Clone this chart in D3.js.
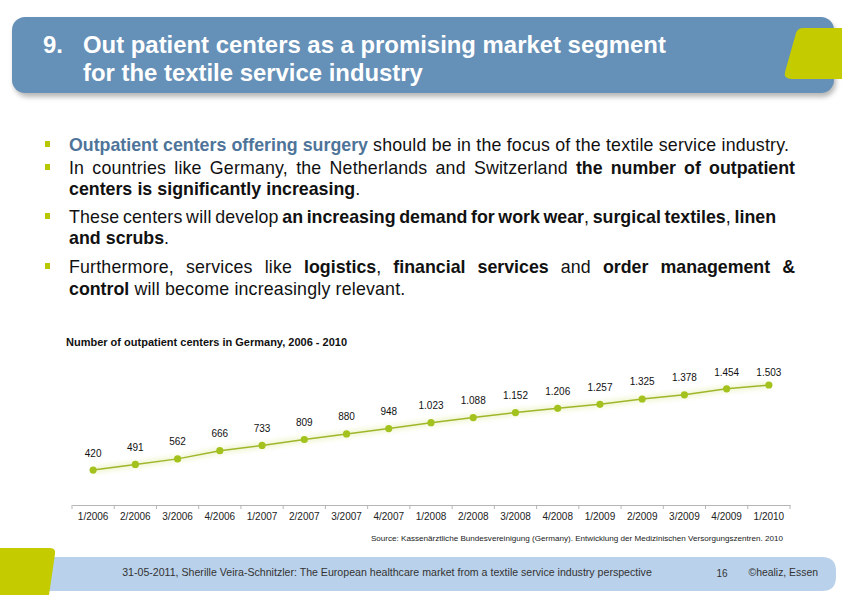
<!DOCTYPE html>
<html><head><meta charset="utf-8">
<script src="https://cdn.jsdelivr.net/npm/d3@7"></script>
<style>html,body{margin:0;padding:0;background:#fff;}svg{display:block;font-family:"Liberation Sans",Arial,sans-serif;}</style>
</head><body>
<script>
const categories = ["1/2006","2/2006","3/2006","4/2006","1/2007","2/2007","3/2007","4/2007","1/2008","2/2008","3/2008","4/2008","1/2009","2/2009","3/2009","4/2009","1/2010"];
const centerCounts = [420,491,562,666,733,809,880,948,1023,1088,1152,1206,1257,1325,1378,1454,1503];
const titleLines = ["Out patient centers as a promising market segment","for the textile service industry"];
const chartTitle = "Number of outpatient centers in Germany, 2006 - 2010";
const sourceText = "Source: Kassenärztliche Bundesvereinigung (Germany). Entwicklung der Medizinischen Versorgungszentren. 2010";
const footerText = "31-05-2011, Sherille Veira-Schnitzler: The European healthcare market from a textile service industry perspective";
// bullets: each line is a list of [text, style]; n=normal, b=bold, h=bold highlight
const bullets = [
  {lines:[{justify:false, segs:[["Outpatient centers offering surgery","h"],[" should be in the focus of the textile service industry.","n"]]}]},
  {lines:[{justify:true, segs:[["In countries like Germany, the Netherlands and Switzerland ","n"],["the number of outpatient","b"]]},
          {justify:false, segs:[["centers is significantly increasing","b"],[".","n"]]}]},
  {lines:[{justify:true, end:776, segs:[["These centers will develop ","n"],["an increasing demand for work wear","b"],[", ","n"],["surgical textiles","b"],[", ","n"],["linen","b"]]},
          {justify:false, segs:[["and scrubs","b"],[".","n"]]}]},
  {lines:[{justify:true, segs:[["Furthermore, services like ","n"],["logistics","b"],[", ","n"],["financial services","b"],[" and ","n"],["order management &","b"]]},
          {justify:false, segs:[["control","b"],[" will become increasingly relevant.","n"]]}]}
];

const W=842,H=595;
const svg=d3.select("body").append("svg").attr("width",W).attr("height",H);
const defs=svg.append("defs");
const f=defs.append("filter").attr("id","sh").attr("x","-10%").attr("y","-30%").attr("width","120%").attr("height","160%");
f.append("feGaussianBlur").attr("stdDeviation",2.5);
const g2=defs.append("filter").attr("id","glow").attr("x","-100%").attr("y","-100%").attr("width","300%").attr("height","300%");
g2.append("feGaussianBlur").attr("stdDeviation",2);

// Header
svg.append("rect").attr("x",14).attr("y",21).attr("width",822).attr("height",76).attr("rx",14).attr("fill","#7b7b7b").attr("opacity",0.55).attr("filter","url(#sh)");
svg.append("rect").attr("x",12).attr("y",17).attr("width",822).attr("height",76).attr("rx",13).attr("fill","#6590b8");
svg.append("path").attr("d","M801,28 L842,28 L842,79 L792,79 Q783,79 785,72 L796,33 Q798,28 803,28 Z").attr("fill","#c4cc00");
const ht=svg.append("g").attr("fill","#fff").attr("font-weight","bold").attr("font-size",23.9);
ht.append("text").attr("x",43).attr("y",53).text("9.");
titleLines.forEach((t,i)=>ht.append("text").attr("x",83).attr("y",53+28*i).text(t));

// Bullets
const bulletY=[[151],[174,195],[223,244],[273,295]];
const X0=69,X1=795,FS=17.8;
const styles={n:{w:"normal",c:"#111",ls:0.18},b:{w:"bold",c:"#111",ls:0},h:{w:"bold",c:"#4e7499",ls:0}};
const bg=svg.append("g").attr("font-size",FS);
function measure(txt,st){
  const t=bg.append("text").attr("font-weight",styles[st].w).attr("letter-spacing",styles[st].ls).text(txt);
  const w=t.node().getComputedTextLength(); t.remove(); return w;
}
const spaceW=measure("a a","n")-measure("aa","n");
bullets.forEach((b,bi)=>{
  bg.append("rect").attr("x",45).attr("y",bulletY[bi][0]-10).attr("width",5).attr("height",6).attr("fill","#b8c800");
  b.lines.forEach((ln,li)=>{
    const y=bulletY[bi][li];
    const words=[];
    ln.segs.forEach(([txt,st])=>{
      const parts=txt.split(/(\s+)/);
      parts.forEach(p=>{ if(p==="") return;
        if(/^\s+$/.test(p)) words.push({space:true});
        else { const prev=words[words.length-1];
          if(prev && !prev.space) { prev.parts.push([p,st]); }
          else words.push({space:false,parts:[[p,st]]}); }
      });
    });
    const ws=words.filter(w=>!w.space);
    ws.forEach(w=>{w.width=d3.sum(w.parts,p=>measure(p[0],p[1]));});
    let gap=spaceW;
    const xEnd=ln.end||X1;
    if(ln.justify && ws.length>1){ gap=(xEnd-X0-d3.sum(ws,w=>w.width))/(ws.length-1); }
    let x=X0;
    ws.forEach(w=>{
      let xx=x;
      w.parts.forEach(([p,st])=>{
        const t=bg.append("text").attr("x",xx).attr("y",y).attr("font-weight",styles[st].w)
          .attr("letter-spacing",styles[st].ls).attr("fill",styles[st].c).text(p);
        xx+=t.node().getComputedTextLength();
      });
      x+=w.width+gap;
    });
  });
});

// Chart
svg.append("text").attr("x",66).attr("y",346).attr("font-size",11).attr("font-weight","bold").attr("fill","#111").text(chartTitle);
const x=d3.scaleBand().domain(categories).range([72,790]);
const y=d3.scaleLinear().domain([0,1600]).range([503,377.4]);
const cx=c=>x(c)+x.bandwidth()/2;
const data=categories.map((c,i)=>({c,v:centerCounts[i]}));
const axisY=505;
const ax=svg.append("g").attr("transform",`translate(0,${axisY})`)
  .call(d3.axisBottom(x).tickSize(0).tickPadding(8));
ax.select(".domain").attr("stroke","#b5b5b5");
ax.selectAll(".tick text").attr("font-family","'Liberation Sans',Arial,sans-serif").attr("font-size",10).attr("fill","#222");
const bounds=categories.map(c=>x(c)).concat([x.range()[1]]);
svg.append("g").selectAll("line").data(bounds).join("line")
  .attr("x1",d=>d).attr("x2",d=>d).attr("y1",axisY).attr("y2",axisY+4).attr("stroke","#b5b5b5");

const line=d3.line().x(d=>cx(d.c)).y(d=>y(d.v));
svg.append("path").datum(data).attr("d",line).attr("fill","none").attr("stroke","#e6efb0").attr("stroke-width",7).attr("opacity",0.5).attr("filter","url(#glow)");
svg.append("path").datum(data).attr("d",line).attr("fill","none").attr("stroke","#9fb62a").attr("stroke-width",1.5);
svg.append("g").selectAll("circle").data(data).join("circle")
  .attr("cx",d=>cx(d.c)).attr("cy",d=>y(d.v)).attr("r",3.6).attr("fill","#a3c21e");
const fmt=d3.formatLocale({decimal:",",thousands:".",grouping:[3],currency:["","€"]}).format(",d");
svg.append("g").selectAll("text").data(data).join("text")
  .attr("x",d=>cx(d.c)).attr("y",d=>Math.max(y(d.v)-13.5,376)).attr("text-anchor","middle")
  .attr("font-size",10).attr("fill","#111").text(d=>fmt(d.v));

svg.append("text").attr("x",783).attr("y",541).attr("text-anchor","end").attr("font-size",8.1).attr("fill","#222").text(sourceText);

// Footer
svg.append("path").attr("d","M40,557 L822,557 Q836,557 836,571 L836,577 Q836,591 822,591 L40,591 Z").attr("fill","#b9d1ea");
svg.append("path").attr("d","M0,548 L50,548 Q56,548 55,554 L49,595 L0,595 Z").attr("fill","#c4cc00");
svg.append("text").attr("x",387).attr("y",576).attr("text-anchor","middle").attr("font-size",10.6).attr("fill","#333").text(footerText);
svg.append("text").attr("x",722).attr("y",577).attr("text-anchor","middle").attr("font-size",10).attr("fill","#333").text("16");
svg.append("text").attr("x",818).attr("y",576).attr("text-anchor","end").attr("font-size",10.4).attr("fill","#333").text("©healiz, Essen");
</script>
</body></html>
